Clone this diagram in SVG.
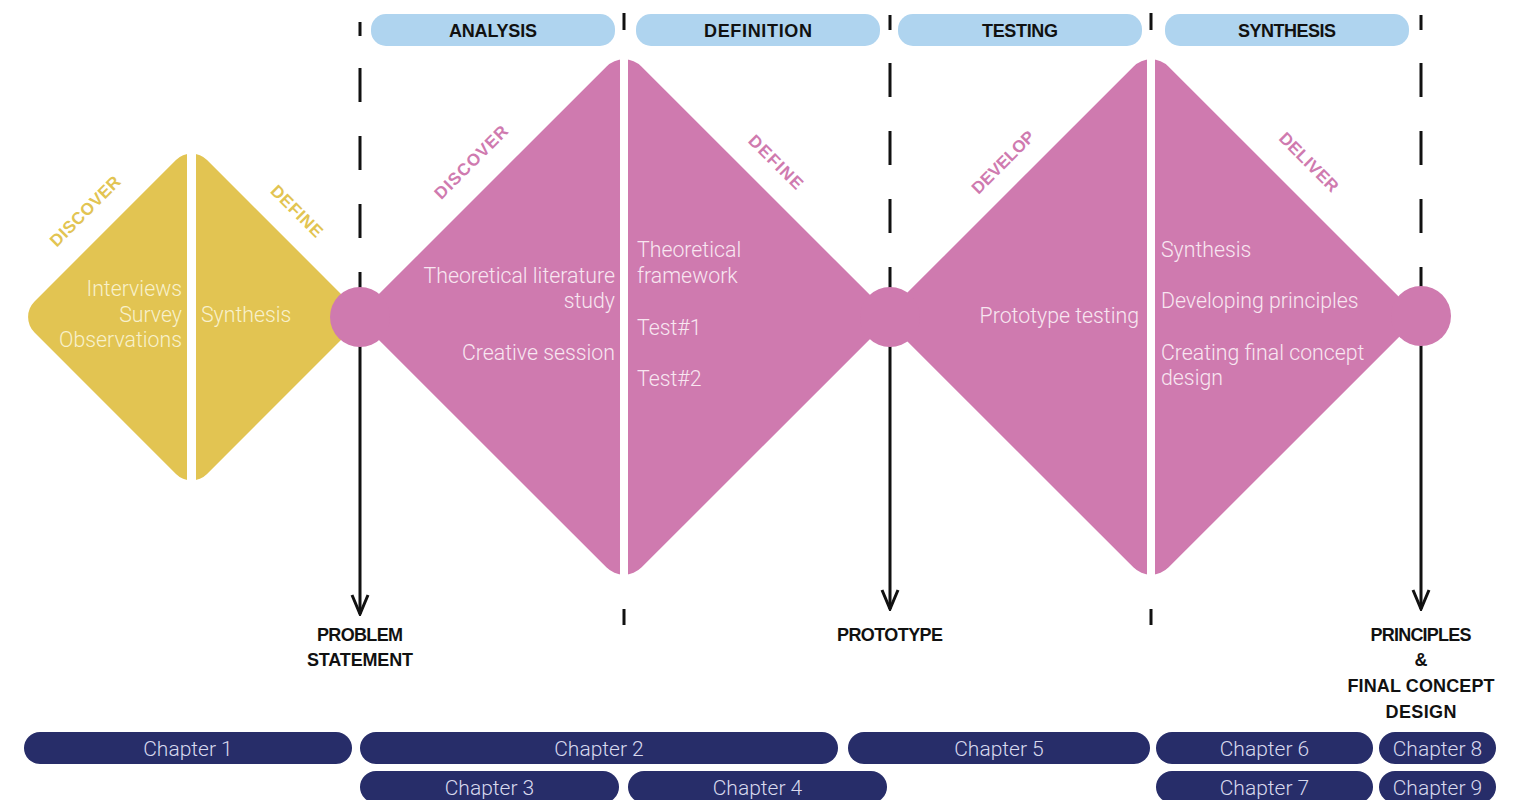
<svg xmlns="http://www.w3.org/2000/svg" width="1513" height="800" viewBox="0 0 1513 800">
  <style>
    .phase { fill: #afd4ef; }
    .phaseText { font-family: "Liberation Sans", Arial, sans-serif; font-weight: 700; font-size: 18px; fill: #111; text-anchor: middle; }
    .milestone { font-family: "Liberation Sans", Arial, sans-serif; font-weight: 700; font-size: 18px; fill: #111; text-anchor: middle; }
    .chapter { fill: #272d69; }
    .chapterText { font-family: Roboto, "Liberation Sans", sans-serif; font-weight: 300; font-size: 21px; fill: #d8d9ee; text-anchor: middle; }
    .yellow { fill: #e2c452; }
    .pink { fill: #cf7aaf; }
    .gap { fill: #ffffff; }
    .stageY { font-family: "Liberation Sans", Arial, sans-serif; font-weight: 700; font-size: 17px; fill: #e2c452; text-anchor: middle; }
    .stageP { font-family: "Liberation Sans", Arial, sans-serif; font-weight: 700; font-size: 17px; fill: #cf7aaf; text-anchor: middle; }
    .bodyY { font-family: Roboto, "Liberation Sans", sans-serif; font-weight: 300; font-size: 21.3px; fill: #f8f1cc; }
    .bodyP { font-family: Roboto, "Liberation Sans", sans-serif; font-weight: 300; font-size: 21.3px; fill: #f8e6f1; }
    .line { stroke: #111; stroke-width: 3; fill: none; }
  </style>
  <defs>
    <marker id="arrow" viewBox="-22 -11 24 22" refX="0" refY="0" markerWidth="24" markerHeight="22" markerUnits="userSpaceOnUse" orient="auto">
      <path d="M-19,-8 L0,0 L-19,8" fill="none" stroke="#111" stroke-width="3"/>
    </marker>
  </defs>

  <!-- phase headers -->
  <g id="phase-analysis">
    <rect class="phase" x="371" y="14" width="244" height="32" rx="15"/>
    <text class="phaseText" x="493" y="37" textLength="88">ANALYSIS</text>
  </g>
  <g id="phase-definition">
    <rect class="phase" x="636" y="14" width="244" height="32" rx="15"/>
    <text class="phaseText" x="758" y="37" textLength="108">DEFINITION</text>
  </g>
  <g id="phase-testing">
    <rect class="phase" x="898" y="14" width="244" height="32" rx="15"/>
    <text class="phaseText" x="1020" y="37" textLength="76">TESTING</text>
  </g>
  <g id="phase-synthesis">
    <rect class="phase" x="1165" y="14" width="244" height="32" rx="15"/>
    <text class="phaseText" x="1287" y="37" textLength="98">SYNTHESIS</text>
  </g>

  <!-- phase boundaries and milestone arrows -->
  <g id="connectors">
    <path class="line" d="M360,22V36 M360,68V102 M360,136V170 M360,204V238"/>
    <path class="line" d="M360,272V614" marker-end="url(#arrow)"/>
    <path class="line" d="M624,13V30 M624,581V595 M624,609V625"/>
    <path class="line" d="M890,15V30 M890,63V97 M890,131V165 M890,199V233"/>
    <path class="line" d="M890,267V609" marker-end="url(#arrow)"/>
    <path class="line" d="M1151,13V30 M1151,581V595 M1151,609V625"/>
    <path class="line" d="M1421,15V30 M1421,63V97 M1421,131V165 M1421,199V233"/>
    <path class="line" d="M1421,267V609" marker-end="url(#arrow)"/>
  </g>

  <!-- pre-study diamond -->
  <g id="diamond-prestudy">
    <rect class="yellow" x="69.5" y="195" width="244" height="244" rx="22" transform="rotate(45 191.5 317)"/>
    <rect class="gap" x="187" y="140" width="9" height="360"/>
    <text class="stageY" x="85" y="211" dy="6" textLength="92" transform="rotate(-45 85 211)">DISCOVER</text>
    <text class="stageY" x="297" y="211" dy="6" textLength="66" transform="rotate(45 297 211)">DEFINE</text>
    <g class="bodyY" text-anchor="end">
      <text x="182" y="296">Interviews</text>
      <text x="182" y="322">Survey</text>
      <text x="182" y="347">Observations</text>
    </g>
    <text class="bodyY" x="201" y="322">Synthesis</text>
  </g>

  <!-- first double-diamond half -->
  <g id="diamond-problem">
    <rect class="pink" x="434.5" y="127.5" width="379" height="379" rx="25" transform="rotate(45 624 317)"/>
    <rect class="gap" x="620" y="40" width="8" height="560"/>
    <text class="stageP" x="471" y="162" dy="6" textLength="96" transform="rotate(-45 471 162)">DISCOVER</text>
    <text class="stageP" x="776" y="162" dy="6" textLength="69" transform="rotate(45 776 162)">DEFINE</text>
    <g class="bodyP" text-anchor="end">
      <text x="615" y="283">Theoretical literature</text>
      <text x="615" y="308">study</text>
      <text x="615" y="360">Creative session</text>
    </g>
    <g class="bodyP">
      <text x="637" y="257">Theoretical</text>
      <text x="637" y="283">framework</text>
      <text x="637" y="335">Test#1</text>
      <text x="637" y="386">Test#2</text>
    </g>
  </g>

  <!-- second double-diamond half -->
  <g id="diamond-solution">
    <rect class="pink" x="961.5" y="127.5" width="379" height="379" rx="25" transform="rotate(45 1151 317)"/>
    <rect class="gap" x="1147" y="40" width="8" height="560"/>
    <text class="stageP" x="1003" y="162" dy="6" textLength="81" transform="rotate(-45 1003 162)">DEVELOP</text>
    <text class="stageP" x="1309" y="162" dy="6" textLength="76" transform="rotate(45 1309 162)">DELIVER</text>
    <text class="bodyP" x="1139" y="323" text-anchor="end">Prototype testing</text>
    <g class="bodyP">
      <text x="1161" y="257">Synthesis</text>
      <text x="1161" y="308">Developing principles</text>
      <text x="1161" y="360">Creating final concept</text>
      <text x="1161" y="385">design</text>
    </g>
  </g>

  <!-- junction points -->
  <g id="point-problem"><circle class="pink" cx="360" cy="317" r="30"/></g>
  <g id="point-prototype"><circle class="pink" cx="890" cy="317" r="30"/></g>
  <g id="point-final"><circle class="pink" cx="1421" cy="316" r="30"/></g>

  <!-- milestones -->
  <g id="milestone-problem">
    <text class="milestone" x="360" y="641" textLength="86">PROBLEM</text>
    <text class="milestone" x="360" y="666" textLength="106">STATEMENT</text>
  </g>
  <g id="milestone-prototype">
    <text class="milestone" x="890" y="641" textLength="106">PROTOTYPE</text>
  </g>
  <g id="milestone-final">
    <text class="milestone" x="1421" y="641" textLength="101">PRINCIPLES</text>
    <text class="milestone" x="1421" y="666">&amp;</text>
    <text class="milestone" x="1421" y="692" textLength="147">FINAL CONCEPT</text>
    <text class="milestone" x="1421" y="718" textLength="71">DESIGN</text>
  </g>

  <!-- chapters -->
  <g id="chapter-1"><rect class="chapter" x="24" y="732" width="328" height="32" rx="16"/><text class="chapterText" x="188" y="756">Chapter 1</text></g>
  <g id="chapter-2"><rect class="chapter" x="360" y="732" width="478" height="32" rx="16"/><text class="chapterText" x="599" y="756">Chapter 2</text></g>
  <g id="chapter-5"><rect class="chapter" x="848" y="732" width="302" height="32" rx="16"/><text class="chapterText" x="999" y="756">Chapter 5</text></g>
  <g id="chapter-6"><rect class="chapter" x="1156" y="732" width="217" height="32" rx="16"/><text class="chapterText" x="1264.5" y="756">Chapter 6</text></g>
  <g id="chapter-8"><rect class="chapter" x="1379" y="732" width="117" height="32" rx="16"/><text class="chapterText" x="1437.5" y="756">Chapter 8</text></g>
  <g id="chapter-3"><rect class="chapter" x="360" y="771" width="259" height="32" rx="16"/><text class="chapterText" x="489.5" y="795">Chapter 3</text></g>
  <g id="chapter-4"><rect class="chapter" x="628" y="771" width="259" height="32" rx="16"/><text class="chapterText" x="757.5" y="795">Chapter 4</text></g>
  <g id="chapter-7"><rect class="chapter" x="1156" y="771" width="217" height="32" rx="16"/><text class="chapterText" x="1264.5" y="795">Chapter 7</text></g>
  <g id="chapter-9"><rect class="chapter" x="1379" y="771" width="117" height="32" rx="16"/><text class="chapterText" x="1437.5" y="795">Chapter 9</text></g>
</svg>
